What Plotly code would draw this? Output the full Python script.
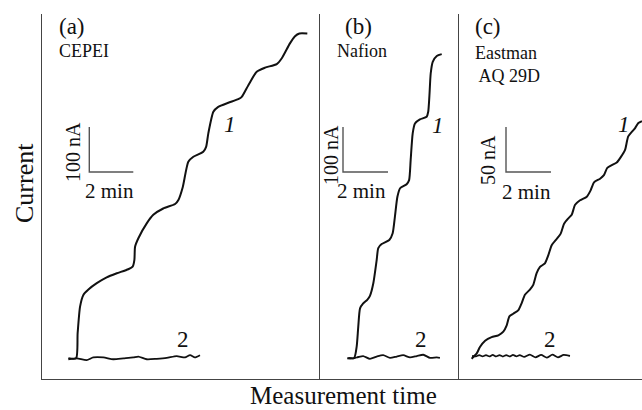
import plotly.graph_objects as go

# ---------------- data (time in min, current in nA, relative to baseline) ----------------
# (a) CEPEI
a_t1 = [1.20, 1.55, 1.62, 1.73, 1.88, 2.11, 2.49, 2.94, 3.40, 3.92, 4.12, 4.20, 4.23, 4.38,
        4.76, 5.06, 5.51, 6.05, 6.20, 6.40, 6.65, 6.88, 7.33, 7.46, 7.56, 7.79, 8.01, 8.47,
        8.92, 9.08, 9.38, 9.76, 10.14, 10.67, 10.90, 11.27, 11.50, 11.70, 12.06]
a_i1 = [-3, -3, 53, 112, 138, 150, 164, 177, 186, 195, 201, 216, 245, 264,
        297, 316, 330, 340, 349, 378, 434, 445, 456, 467, 497, 545, 556, 565,
        573, 578, 604, 634, 643, 651, 664, 697, 713, 719, 719]
a_t2 = [1.20, 1.58, 2.03, 2.33, 2.79, 3.24, 3.70, 4.15, 4.38, 4.76, 5.21, 5.67, 6.12, 6.50,
        6.73, 6.95, 7.18]
a_i2 = [-5, -3, -7, -1, -1, -5, -3, -1, 1, -5, -4, -2, 2, -1, 4, -1, 4]

# (b) Nafion
b_t1 = [1.21, 1.52, 1.63, 1.70, 1.78, 1.92, 2.10, 2.22, 2.37, 2.52, 2.59, 2.74, 3.08, 3.23,
        3.33, 3.44, 3.56, 3.85, 3.96, 4.03, 4.12, 4.22, 4.44, 4.74, 4.81, 4.86, 4.92, 5.01,
        5.19, 5.41]
b_i1 = [-3, -2, 23, 67, 108, 119, 127, 136, 164, 216, 242, 251, 260, 275,
        312, 356, 375, 384, 393, 438, 497, 519, 528, 534, 545, 578, 630, 656,
        669, 673]
b_t2 = [1.26, 1.48, 1.70, 1.92, 2.22, 2.52, 2.81, 3.11, 3.41, 3.70, 4.00, 4.30, 4.59, 4.89,
        5.19, 5.33]
b_i2 = [-2, -3, 0, 2, -4, 1, 4, -2, 1, 4, -1, 2, 5, -2, -1, -2]

# (c) Eastman AQ 29D
c_t1 = [0.56, 0.79, 0.93, 1.16, 1.45, 1.75, 1.97, 2.12, 2.24, 2.41, 2.64, 2.79, 2.93, 3.16,
        3.30, 3.45, 3.60, 3.82, 3.97, 4.12, 4.34, 4.52, 4.67, 4.86, 5.01, 5.16, 5.38, 5.68,
        5.85, 6.00, 6.27, 6.44, 6.59, 6.79, 7.01, 7.19, 7.38, 7.52, 7.68, 7.82, 7.97, 8.13]
c_i1 = [-3, 3, 10, 17, 21, 23, 27, 34, 44, 47, 51, 59, 68, 74,
        79, 92, 99, 103, 112, 123, 130, 136, 147, 153, 157, 168, 173, 177,
        184, 193, 197, 201, 209, 212, 215, 221, 229, 244, 249, 253, 259, 261]
c_t2 = [0.58, 0.75, 0.90, 1.05, 1.20, 1.35, 1.50, 1.65, 1.80, 1.95, 2.10, 2.25, 2.40, 2.55,
        2.70, 2.90, 3.15, 3.40, 3.65, 3.90, 4.15, 4.40, 4.65, 4.93]
c_i2 = [0, -0.5, 1, -0.5, 1, -0.5, 1.2, -0.5, 1, -0.6, 1, -0.5, 1.2, -0.4,
        1, -1, 1.5, -1.5, 1.2, -1.8, 1.5, -1.5, 1.2, 0]

panel_tags = ["(a)", "(b)", "(c)"]
panel_names = ["CEPEI", "Nafion", "Eastman<br> AQ 29D"]
bar_current = [100, 100, 50]   # nA
bar_time = [2, 2, 2]           # min

# ---------------- layout geometry ----------------
W, H = 642, 410
L, T, B = 42, 14, 31
PW, PH = W - L, H - T - B
edges = [42, 320, 459, 642]           # panel borders, px
px_per_min = [22.0, 22.5, 22.5]
px_per_nA = [0.45, 0.45, 0.90]
base_px = [357, 357, 356]             # baseline height of each panel, px from top


def xp(x):
    return (x - L) / PW


def yp(y):
    return (H - B - y) / PH


FONT = "Liberation Serif"
INK = "#111111"
FRAME = "#444444"

fig = go.Figure()
curves = [(a_t1, a_i1, a_t2, a_i2), (b_t1, b_i1, b_t2, b_i2), (c_t1, c_i1, c_t2, c_i2)]
for k, (t1, i1, t2, i2) in enumerate(curves):
    sx = "" if k == 0 else str(k + 1)
    for t, i, w in ((t1, i1, 2.0), (t2, i2, 1.8)):
        fig.add_trace(go.Scatter(x=t, y=i, mode="lines", xaxis="x" + sx, yaxis="y" + sx,
                                 line=dict(color=INK, width=w, shape="spline", smoothing=0.6),
                                 showlegend=False, hoverinfo="skip"))

layout = dict(width=W, height=H, margin=dict(l=L, r=0, t=T, b=B),
              paper_bgcolor="white", plot_bgcolor="white", showlegend=False)
for k in range(3):
    sx = "" if k == 0 else str(k + 1)
    x0, x1 = edges[k], edges[k + 1]
    xr = [0, (x1 - x0) / px_per_min[k]]
    yr = [(base_px[k] - (H - B)) / px_per_nA[k], (base_px[k] - T) / px_per_nA[k]]
    layout["xaxis" + sx] = dict(domain=[xp(x0), xp(x1)], range=xr, anchor="y" + sx,
                                showline=True, linecolor=FRAME, linewidth=1.3,
                                showgrid=False, zeroline=False, showticklabels=False, ticks="")
    layout["yaxis" + sx] = dict(domain=[0, 1], range=yr, anchor="x" + sx,
                                showline=True, linecolor=FRAME, linewidth=1.3,
                                showgrid=False, zeroline=False, showticklabels=False, ticks="")
fig.update_layout(**layout)

# scale bars, drawn in each panel's own units
bar_corner_px = [(89.3, 172), (343, 172), (506, 172)]
for k in range(3):
    sx = "" if k == 0 else str(k + 1)
    cx, cy = bar_corner_px[k]
    t0 = (cx - edges[k]) / px_per_min[k]
    i0 = (base_px[k] - cy) / px_per_nA[k]
    fig.add_shape(type="path", xref="x" + sx, yref="y" + sx,
                  path=f"M {t0},{i0 + bar_current[k]} L {t0},{i0} L {t0 + bar_time[k]},{i0}",
                  line=dict(color="#555555", width=1.4))

annos = []


def txt(text, x, y, size, xanchor="left", yanchor="middle", angle=0, italic=False):
    annos.append(dict(text=text, x=xp(x), y=yp(y), xref="paper", yref="paper",
                      xanchor=xanchor, yanchor=yanchor, textangle=angle, showarrow=False,
                      font=dict(family=FONT, size=size, color=INK,
                                style="italic" if italic else "normal")))


tag_x = [57, 343, 473]
name_x = [57, 335, 473]
for k in range(3):
    txt(panel_tags[k], tag_x[k], 27, 23)
for k in range(2):
    txt(panel_names[k], name_x[k], 51, 18)
annos.append(dict(text="Eastman<br> AQ 29D", x=xp(name_x[2]), y=yp(41), xref="paper",
                  yref="paper", xanchor="left", yanchor="top", showarrow=False, align="left",
                  font=dict(family=FONT, size=18, color=INK)))

# scale bar captions
txt(f"{bar_current[0]} nA", 73, 152, 20, xanchor="center", angle=-90)
txt(f"{bar_current[1]} nA", 331, 155, 20, xanchor="center", angle=-90)
txt(f"{bar_current[2]} nA", 488, 160, 20, xanchor="center", angle=-90)
txt(f"{bar_time[0]} min", 83, 191, 21)
txt(f"{bar_time[1]} min", 335, 191, 21)
txt(f"{bar_time[2]} min", 500, 192, 21)

# curve numbers
for x, y in ((230, 125), (438, 126), (624, 124)):
    txt("1", x, y, 23, xanchor="center", italic=True)
for x, y in ((183, 339), (421, 339), (550, 339)):
    txt("2", x, y, 23, xanchor="center")

# axis captions
txt("Current", 24, 183, 26, xanchor="center", angle=-90)
txt("Measurement time", 343, 395, 25, xanchor="center")

fig.update_layout(annotations=annos)
fig.write_html("out.html")
